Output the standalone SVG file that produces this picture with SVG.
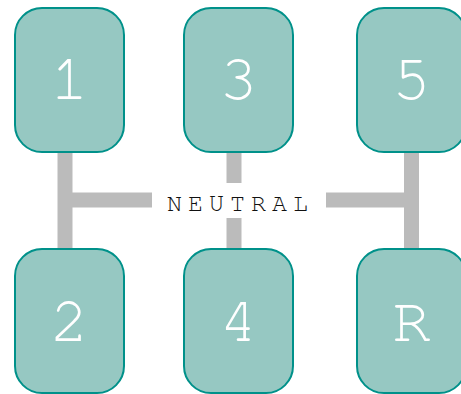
<svg xmlns="http://www.w3.org/2000/svg" width="461" height="394" viewBox="0 0 461 394">
<style>
.node rect{fill:#96c8c2;stroke:#00918a;stroke-width:2}
.node text{fill:#ffffff;font-family:"Nimbus Mono PS","Nimbus Mono L","FreeMono","Courier","Liberation Mono",monospace;font-size:64px;text-anchor:middle}
.bar{stroke:#bbbbbb;stroke-width:15;fill:none}
.lbl{fill:#111111;font-family:"Nimbus Mono PS","Nimbus Mono L","FreeMono","Courier","Liberation Mono",monospace;font-size:25px;letter-spacing:6px}
</style>
<rect width="461" height="394" fill="#ffffff"/>
<g id="connectors">
<line class="bar" x1="65" y1="150" x2="65" y2="251"/>
<line class="bar" x1="65" y1="200" x2="152" y2="200"/>
<line class="bar" x1="234" y1="150" x2="234" y2="183"/>
<line class="bar" x1="234" y1="218" x2="234" y2="251"/>
<line class="bar" x1="411.5" y1="150" x2="411.5" y2="251"/>
<line class="bar" x1="326" y1="200" x2="411.5" y2="200"/>
<text class="lbl" x="167" y="211">NEUTRAL</text>
</g>
<g id="node1" class="node"><rect x="15" y="8" width="109" height="144" rx="27"/><text x="69.5" y="99">1</text></g>
<g id="node3" class="node"><rect x="184" y="8" width="109" height="144" rx="27"/><text x="238.5" y="99">3</text></g>
<g id="node5" class="node"><rect x="357" y="8" width="109" height="144" rx="27"/><text x="411.5" y="99">5</text></g>
<g id="node2" class="node"><rect x="15" y="249" width="109" height="144" rx="27"/><text x="69.5" y="341">2</text></g>
<g id="node4" class="node"><rect x="184" y="249" width="109" height="144" rx="27"/><text x="238.5" y="341">4</text></g>
<g id="nodeR" class="node"><rect x="357" y="249" width="109" height="144" rx="27"/><text x="411.5" y="341">R</text></g>
</svg>
